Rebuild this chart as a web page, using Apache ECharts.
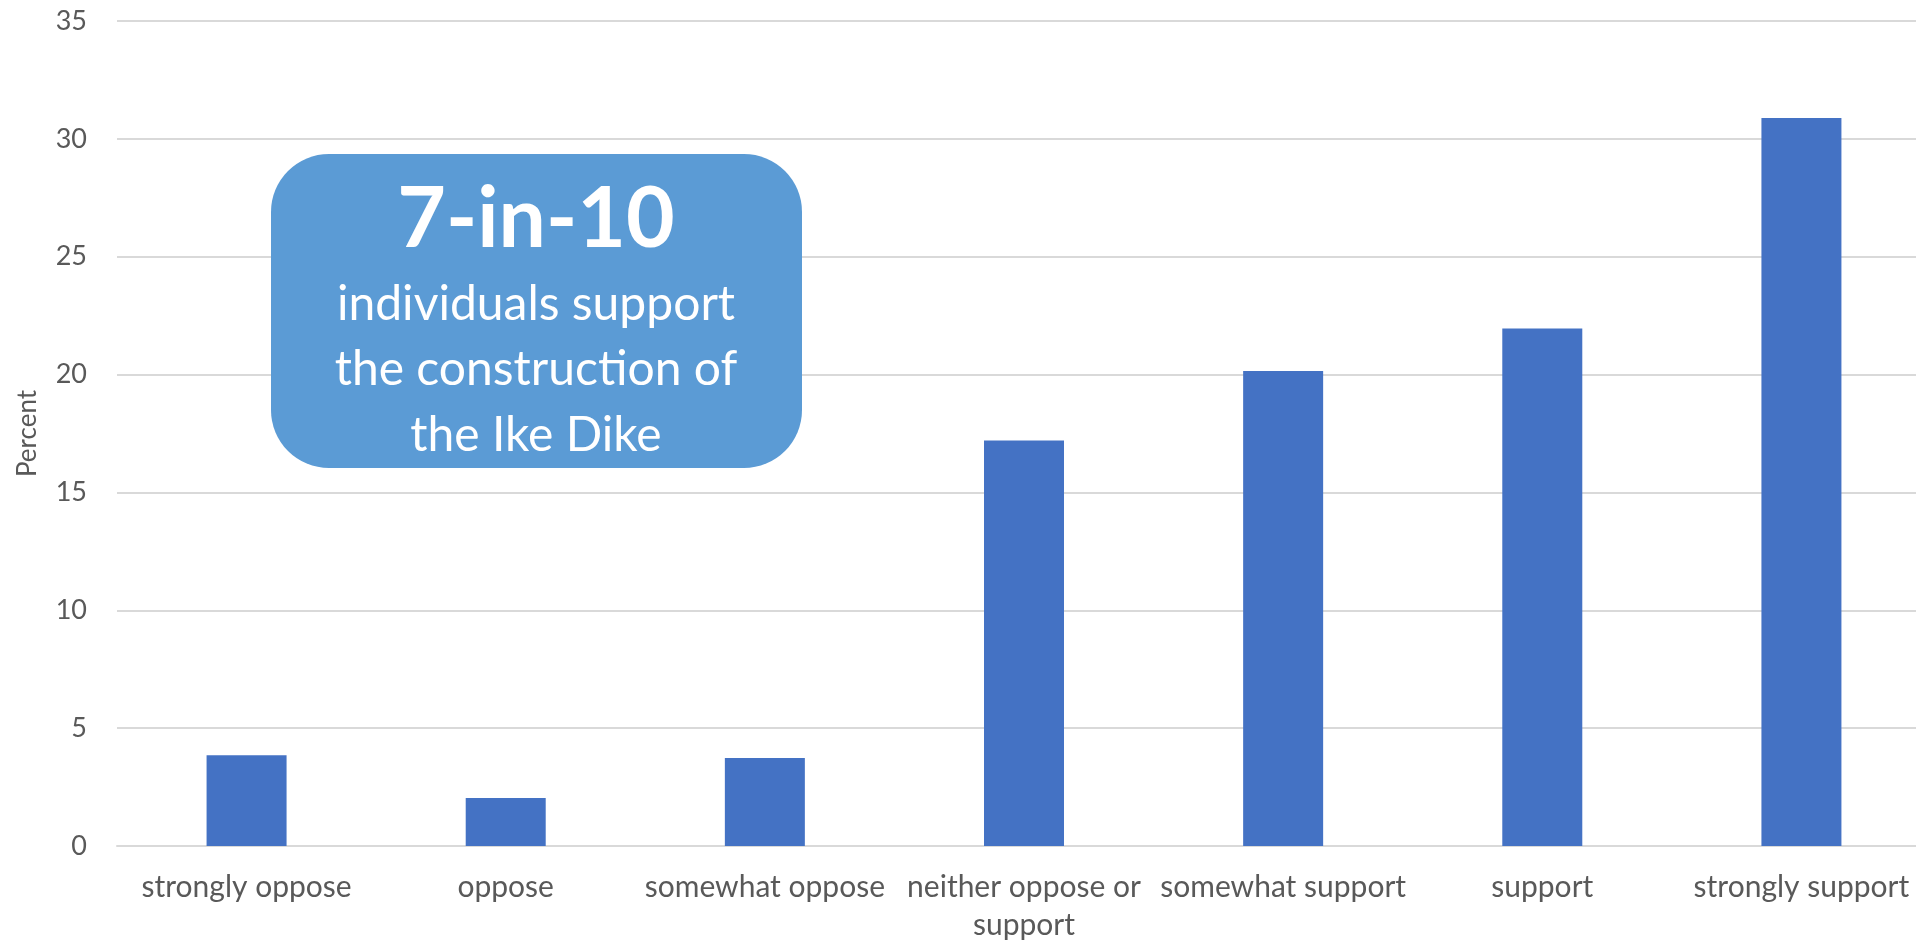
<!DOCTYPE html>
<html>
<head>
<meta charset="utf-8">
<script src="https://cdn.jsdelivr.net/npm/echarts@6/dist/echarts.min.js"></script>
<style>
html,body{margin:0;padding:0;background:#fff;}
#chart{width:1916px;height:942px;}
</style>
</head>
<body>
<div id="chart"></div>
<script>
const categories = ['strongly oppose', 'oppose', 'somewhat oppose', 'neither oppose or\nsupport', 'somewhat support', 'support', 'strongly support'];
const percentValues = [3.85, 2.04, 3.73, 17.2, 20.15, 21.95, 30.89];
const yTicks = { min: 0, max: 35, interval: 5 };
const axisName = 'Percent';
const calloutTitle = '7-in-10';
const calloutLines = ['individuals support', 'the construction of', 'the Ike Dike'];

const chart = echarts.init(document.getElementById('chart'));
const font = 'Lato, "Open Sans", sans-serif';
chart.setOption({
  animation: false,
  backgroundColor: '#ffffff',
  grid: { left: 117, top: 21, width: 1814, bottom: 96, containLabel: false, outerBoundsMode: 'none' },
  xAxis: {
    type: 'category',
    data: categories,
    axisLine: { show: true, lineStyle: { color: '#D9D9D9', width: 2 } },
    axisTick: { show: false },
    axisLabel: { color: '#595959', fontSize: 30, fontFamily: font, margin: 22, lineHeight: 38, interval: 0 }
  },
  yAxis: {
    type: 'value',
    min: yTicks.min, max: yTicks.max, interval: yTicks.interval,
    name: axisName,
    nameLocation: 'middle',
    nameGap: 76,
    nameRotate: 90,
    nameTextStyle: { color: '#595959', fontSize: 26, fontFamily: font },
    axisLine: { show: false },
    axisTick: { show: false },
    axisLabel: { color: '#595959', fontSize: 27, fontFamily: font, margin: 30 },
    splitLine: { lineStyle: { color: '#D9D9D9', width: 2 } }
  },
  series: [{
    type: 'bar',
    data: percentValues,
    barWidth: 80,
    itemStyle: { color: '#4472C4' }
  }],
  graphic: [{
    type: 'group',
    x: 271, y: 154,
    z: 100,
    children: [
      { type: 'rect', z: 100, shape: { x: 0, y: 0, width: 531, height: 314, r: 58 }, style: { fill: '#5B9BD5' } },
      { type: 'text', z: 101, x: 265, y: 66, style: { text: calloutTitle, fill: '#fff', font: 'bold 84px ' + font, textAlign: 'center', textVerticalAlign: 'middle' } },
      { type: 'text', z: 101, x: 265, y: 151, style: { text: calloutLines[0], fill: '#fff', font: '48px ' + font, textAlign: 'center', textVerticalAlign: 'middle' } },
      { type: 'text', z: 101, x: 265, y: 216, style: { text: calloutLines[1], fill: '#fff', font: '48px ' + font, textAlign: 'center', textVerticalAlign: 'middle' } },
      { type: 'text', z: 101, x: 265, y: 282, style: { text: calloutLines[2], fill: '#fff', font: '48px ' + font, textAlign: 'center', textVerticalAlign: 'middle' } }
    ]
  }]
});
</script>
</body>
</html>
